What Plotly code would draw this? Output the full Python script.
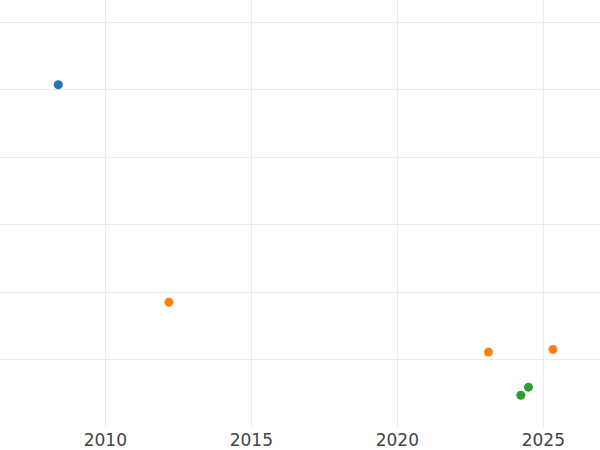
import plotly.graph_objects as go

# Data
blue_x = [2008.39]
blue_y = [40.7]
orange_x = [2012.18, 2023.12, 2025.33]
orange_y = [8.5, 1.1, 1.5]
green_x = [2024.23, 2024.49]
green_y = [-5.3, -4.1]

x_ticks = [2010, 2015, 2020, 2025]

fig = go.Figure()
for xs, ys, col in [(blue_x, blue_y, "#1f77b4"),
                    (orange_x, orange_y, "#ff7f0e"),
                    (green_x, green_y, "#2ca02c")]:
    fig.add_trace(go.Scatter(x=xs, y=ys, mode="markers",
                             marker=dict(color=col, size=9),
                             showlegend=False))

fig.update_layout(
    width=600, height=450,
    margin=dict(l=0, r=0, t=0, b=23),
    paper_bgcolor="white", plot_bgcolor="white",
    font=dict(family="DejaVu Sans", size=17, color="#444"),
)
fig.update_xaxes(range=[2006.394, 2026.94], tickvals=x_ticks,
                 showgrid=True, gridcolor="#ebebeb", gridwidth=1,
                 zeroline=False, showline=False, automargin=False,
                 ticks="", ticklabelstandoff=1)
fig.update_yaxes(range=[-10, 53.26], dtick=10, showticklabels=False,
                 showgrid=True, gridcolor="#ebebeb", gridwidth=1,
                 zeroline=False, showline=False, ticks="", automargin=False)

fig.write_html("out.html", config={"displayModeBar": False},
               post_script="document.body.style.margin='0';document.body.style.padding='0';")
